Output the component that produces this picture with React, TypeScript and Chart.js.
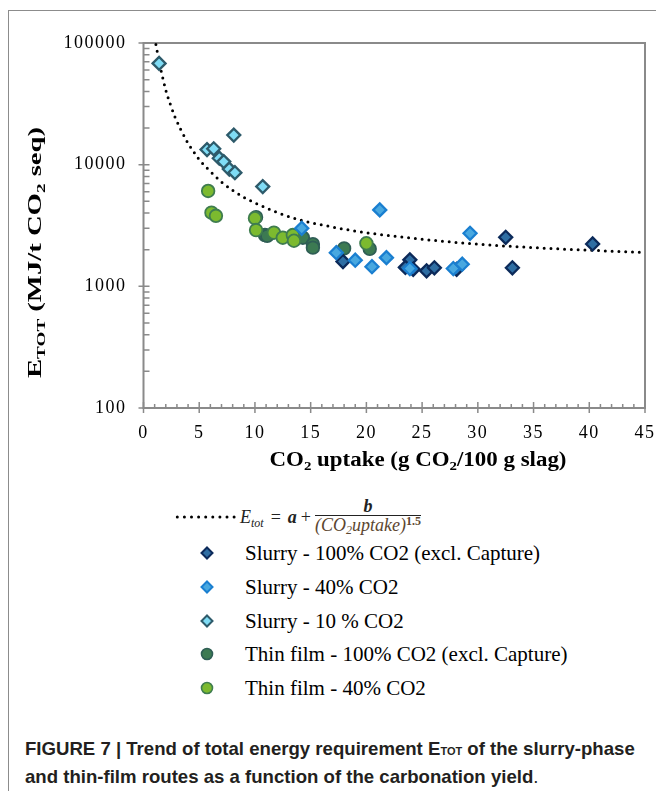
import React, { useEffect, useRef } from 'react';
import { Chart, registerables } from 'chart.js';
Chart.register(...registerables);

// ---------- axes ----------
const X_MIN = 0;
const X_MAX = 45;
const X_STEP = 5;
const Y_MIN = 100;
const Y_MAX = 100000;
const Y_TICKS = [100, 1000, 10000, 100000];

// ---------- series ----------
const seriesNames = [
  'Slurry - 100% CO2 (excl. Capture)',
  'Slurry - 40% CO2',
  'Slurry - 10 % CO2',
  'Thin film - 100% CO2 (excl. Capture)',
  'Thin film - 40% CO2',
];

const slurry100X = [17.9, 23.9, 23.5, 24.2, 25.4, 26.1, 28.1, 32.5, 33.1, 40.3];
const slurry100Y = [1600, 1650, 1430, 1380, 1340, 1420, 1380, 2530, 1420, 2230];

const slurry40X = [14.2, 17.3, 19.0, 20.5, 21.2, 21.8, 23.9, 27.8, 28.6, 29.3];
const slurry40Y = [3000, 1890, 1640, 1450, 4250, 1720, 1400, 1400, 1520, 2730];

const slurry10X = [1.4, 5.7, 6.3, 6.8, 7.2, 7.7, 8.1, 8.2, 10.7];
const slurry10Y = [68000, 13300, 13500, 11300, 10600, 9200, 17500, 8600, 6600];

const thin100X = [10.1, 10.9, 11.1, 14.3, 15.2, 15.2, 18.0, 20.3];
const thin100Y = [3700, 2640, 2600, 2510, 2220, 2080, 2050, 2030];

const thin40X = [5.8, 6.1, 6.5, 10.0, 10.1, 11.7, 12.5, 13.4, 13.5, 20.0];
const thin40Y = [6080, 4030, 3800, 3630, 2900, 2760, 2510, 2640, 2370, 2260];

// fitted trend line, sampled from the figure
const curveX = [1.0, 1.2, 1.4, 1.6, 1.8, 2.0, 2.4, 2.8, 3.3, 4.0, 4.5, 5.0, 6.0, 7.0, 8.0, 9.0, 10, 12, 14, 16, 18, 20, 23, 26, 30, 35, 40, 45];
const curveY = [110000, 88000, 70000, 58000, 48500, 41000, 31500, 25000, 19800, 15000, 12800, 11000, 8800, 7200, 6150, 5400, 4850, 4050, 3520, 3200, 2950, 2760, 2550, 2390, 2220, 2080, 1980, 1900];

// ---------- styles ----------
const FILL = ['#2f6ea3', '#48a8e0', '#7fdcf5', '#3c7a52', '#7cba2f'];
const EDGE = ['#0c2a5a', '#1a7fd0', '#2e5b6b', '#2f5e55', '#3f7d4f'];
const SHAPE = ['rectRot', 'rectRot', 'rectRot', 'circle', 'circle'];

const pts = (xs: number[], ys: number[]) => xs.map((x, i) => ({ x, y: ys[i] }));

type Seg = [string, boolean];
const X_TITLE: Seg[] = [['CO', false], ['2', true], [' uptake (g CO', false], ['2', true], ['/100 g slag)', false]];
const Y_TITLE: Seg[] = [['E', false], ['TOT', true], [' (MJ/t CO', false], ['2', true], [' seq)', false]];

function drawRich(ctx: CanvasRenderingContext2D, segs: Seg[], cx: number, cy: number, rot: number, targetLen: number, size: number) {
  ctx.save();
  (ctx as any).letterSpacing = '0px';
  ctx.translate(cx, cy);
  ctx.rotate(rot);
  const mainF = `bold ${size}px "Liberation Serif", serif`;
  const subF = `bold ${Math.round(size * 0.65)}px "Liberation Serif", serif`;
  let total = 0;
  const ws = segs.map(([t, s]) => {
    ctx.font = s ? subF : mainF;
    const w = ctx.measureText(t).width;
    total += w;
    return w;
  });
  ctx.scale(targetLen / total, 1);
  ctx.fillStyle = '#000';
  ctx.textAlign = 'left';
  ctx.textBaseline = 'alphabetic';
  let x = -total / 2;
  segs.forEach(([t, s], i) => {
    ctx.font = s ? subF : mainF;
    ctx.fillText(t, x, s ? 4 : 0);
    x += ws[i];
  });
  ctx.restore();
}

const framePlugin = {
  id: 'frameTicks',
  beforeDraw(chart: any) {
    (chart.ctx as any).letterSpacing = '1.5px';
  },
  beforeDatasetsDraw(chart: any) {
    const { ctx, chartArea: ca, scales } = chart;
    const xs = scales.x;
    const ys = scales.y;
    ctx.save();
    ctx.strokeStyle = '#8a8a8a';
    ctx.lineWidth = 2;
    ctx.strokeRect(ca.left, ca.top, ca.right - ca.left, ca.bottom - ca.top);
    ctx.lineWidth = 1.5;
    ctx.beginPath();
    Y_TICKS.forEach((v) => {
      const y = ys.getPixelForValue(v);
      ctx.moveTo(ca.left - 5, y);
      ctx.lineTo(ca.left + 6, y);
      if (v < Y_MAX) {
        for (let m = 2; m <= 9; m++) {
          const ym = ys.getPixelForValue(v * m);
          ctx.moveTo(ca.left, ym);
          ctx.lineTo(ca.left + 6, ym);
        }
      }
    });
    for (let t = X_MIN; t <= X_MAX; t += 1) {
      const x = xs.getPixelForValue(t);
      if (t % X_STEP === 0) {
        ctx.moveTo(x, ca.bottom - 6);
        ctx.lineTo(x, ca.bottom + 5);
      } else {
        ctx.moveTo(x, ca.bottom - 4);
        ctx.lineTo(x, ca.bottom);
      }
    }
    ctx.stroke();
    ctx.restore();
  },
  afterDraw(chart: any) {
    const ctx = chart.ctx as CanvasRenderingContext2D;
    drawRich(ctx, X_TITLE, 418, 466, 0, 297, 20);
    drawRich(ctx, Y_TITLE, 41, 252.5, -Math.PI / 2, 251, 18);
  },
};

function Diamond({ fill, edge }: { fill: string; edge: string }) {
  return (
    <svg width="16" height="16" style={{ display: 'block' }}>
      <polygon points="8,2.5 13.5,8 8,13.5 2.5,8" fill={fill} stroke={edge} strokeWidth={2} />
    </svg>
  );
}
function Dot({ fill, edge }: { fill: string; edge: string }) {
  return (
    <svg width="16" height="16" style={{ display: 'block' }}>
      <circle cx="8" cy="8" r="5.5" fill={fill} stroke={edge} strokeWidth={1.6} />
    </svg>
  );
}

const LEGEND_Y = [553, 587, 620.7, 654, 688];

export default function App() {
  const ref = useRef<HTMLCanvasElement | null>(null);

  useEffect(() => {
    if (!ref.current) return;
    const seriesX = [slurry100X, slurry40X, slurry10X, thin100X, thin40X];
    const seriesY = [slurry100Y, slurry40Y, slurry10Y, thin100Y, thin40Y];
    const orders = [3, 2, 1, 5, 4];
    const markerSets = seriesNames.map((name, i) => ({
      label: name,
      data: pts(seriesX[i], seriesY[i]),
      pointStyle: SHAPE[i],
      pointRadius: SHAPE[i] === 'circle' ? 6.3 : 6.5,
      pointBorderWidth: SHAPE[i] === 'circle' ? 1.8 : 2.3,
      backgroundColor: FILL[i],
      borderColor: EDGE[i],
      pointBackgroundColor: FILL[i],
      pointBorderColor: EDGE[i],
      showLine: false,
      order: orders[i],
    }));
    const chart = new Chart(ref.current, {
      type: 'scatter',
      data: {
        datasets: [
          {
            label: 'Etot = a + b/(CO2uptake)^1.5',
            data: pts(curveX, curveY),
            showLine: true,
            pointRadius: 0,
            borderColor: '#000',
            borderWidth: 3,
            borderDash: [0, 6.8],
            borderCapStyle: 'round',
            cubicInterpolationMode: 'monotone',
            fill: false,
            order: 10,
          } as any,
          ...markerSets,
        ],
      },
      options: {
        animation: false,
        responsive: false,
        layout: { padding: { top: 43, right: 11, left: 0, bottom: 0 } },
        plugins: { legend: { display: false }, tooltip: { enabled: false } },
        scales: {
          x: {
            type: 'linear',
            min: X_MIN,
            max: X_MAX,
            ticks: {
              stepSize: X_STEP,
              color: '#000',
              font: { family: '"Liberation Serif", serif', size: 18 },
              padding: 14,
              maxRotation: 0,
            },
            grid: { display: false, drawTicks: false },
            border: { display: false },
            afterFit: (s: any) => {
              s.height = 72;
              s.paddingLeft = 0;
              s.paddingRight = 0;
            },
          },
          y: {
            type: 'logarithmic',
            min: Y_MIN,
            max: Y_MAX,
            afterBuildTicks: (s: any) => {
              s.ticks = Y_TICKS.map((v) => ({ value: v }));
            },
            ticks: {
              color: '#000',
              font: { family: '"Liberation Serif", serif', size: 18 },
              padding: 17,
              callback: (v: any) => String(v),
            },
            grid: { display: false, drawTicks: false },
            border: { display: false },
            afterFit: (s: any) => {
              s.width = 143.5;
              s.paddingTop = 0;
              s.paddingBottom = 0;
            },
          },
        },
      } as any,
      plugins: [framePlugin as any],
    });
    return () => chart.destroy();
  }, []);

  const serif = '"Liberation Serif", "Times New Roman", serif';

  return (
    <div style={{ position: 'absolute', left: 0, top: 0, width: 656, height: 791, overflow: 'hidden' }}>
      <div
        style={{
          position: 'absolute',
          left: 8,
          top: 10,
          width: 700,
          height: 800,
          borderLeft: '1px solid #8c8c8c',
          borderTop: '1px solid #8c8c8c',
        }}
      />
      <canvas ref={ref} width={656} height={480} style={{ position: 'absolute', left: 0, top: 0 }} />

      {/* legend: fitted curve */}
      <svg width="70" height="10" style={{ position: 'absolute', left: 172, top: 512 }}>
        <line x1="5.3" y1="5" x2="63" y2="5" stroke="#000" strokeWidth={3} strokeLinecap="round" strokeDasharray="0 7.1" />
      </svg>
      <div
        style={{
          position: 'absolute',
          left: 240,
          top: 517,
          transform: 'translateY(-50%)',
          display: 'flex',
          alignItems: 'center',
          fontFamily: serif,
          fontStyle: 'italic',
          fontSize: 18,
          color: '#222',
          whiteSpace: 'nowrap',
        }}
      >
        <span>
          E<span style={{ fontSize: 12, position: 'relative', top: 4 }}>tot</span>
        </span>
        <span style={{ margin: '0 7px', fontStyle: 'normal' }}>=</span>
        <b>a</b>
        <span style={{ margin: '0 4px', fontStyle: 'normal' }}>+</span>
        <span style={{ display: 'inline-flex', flexDirection: 'column', alignItems: 'center' }}>
          <b style={{ borderBottom: '1px solid #222', width: '100%', textAlign: 'center', lineHeight: '18px' }}>b</b>
          <span style={{ color: '#5c4630', lineHeight: '19px' }}>
            (CO<span style={{ fontSize: 12, position: 'relative', top: 3 }}>2</span>uptake)
            <b style={{ fontSize: 12, position: 'relative', top: -6, fontStyle: 'normal' }}>1.5</b>
          </span>
        </span>
      </div>

      {/* legend: series */}
      {seriesNames.map((name, i) => (
        <React.Fragment key={name}>
          <div style={{ position: 'absolute', left: 199, top: LEGEND_Y[i] - 8 }}>
            {SHAPE[i] === 'circle' ? <Dot fill={FILL[i]} edge={EDGE[i]} /> : <Diamond fill={FILL[i]} edge={EDGE[i]} />}
          </div>
          <div
            style={{
              position: 'absolute',
              left: 245,
              top: LEGEND_Y[i] - 12,
              fontFamily: serif,
              fontSize: 21,
              lineHeight: '24px',
              color: '#000',
              whiteSpace: 'nowrap',
            }}
          >
            {name}
          </div>
        </React.Fragment>
      ))}

      {/* caption */}
      <div
        style={{
          position: 'absolute',
          left: 25,
          top: 736,
          fontFamily: '"Liberation Sans", Arial, sans-serif',
          fontWeight: 'bold',
          fontSize: 18.6,
          lineHeight: '25px',
          color: '#231f20',
          whiteSpace: 'nowrap',
        }}
      >
        FIGURE 7 | Trend of total energy requirement E<span style={{ fontSize: 11 }}>TOT</span> of the slurry-phase
        <br />
        and thin-film routes as a function of the carbonation yield<span style={{ fontWeight: 'normal' }}>.</span>
      </div>
    </div>
  );
}
